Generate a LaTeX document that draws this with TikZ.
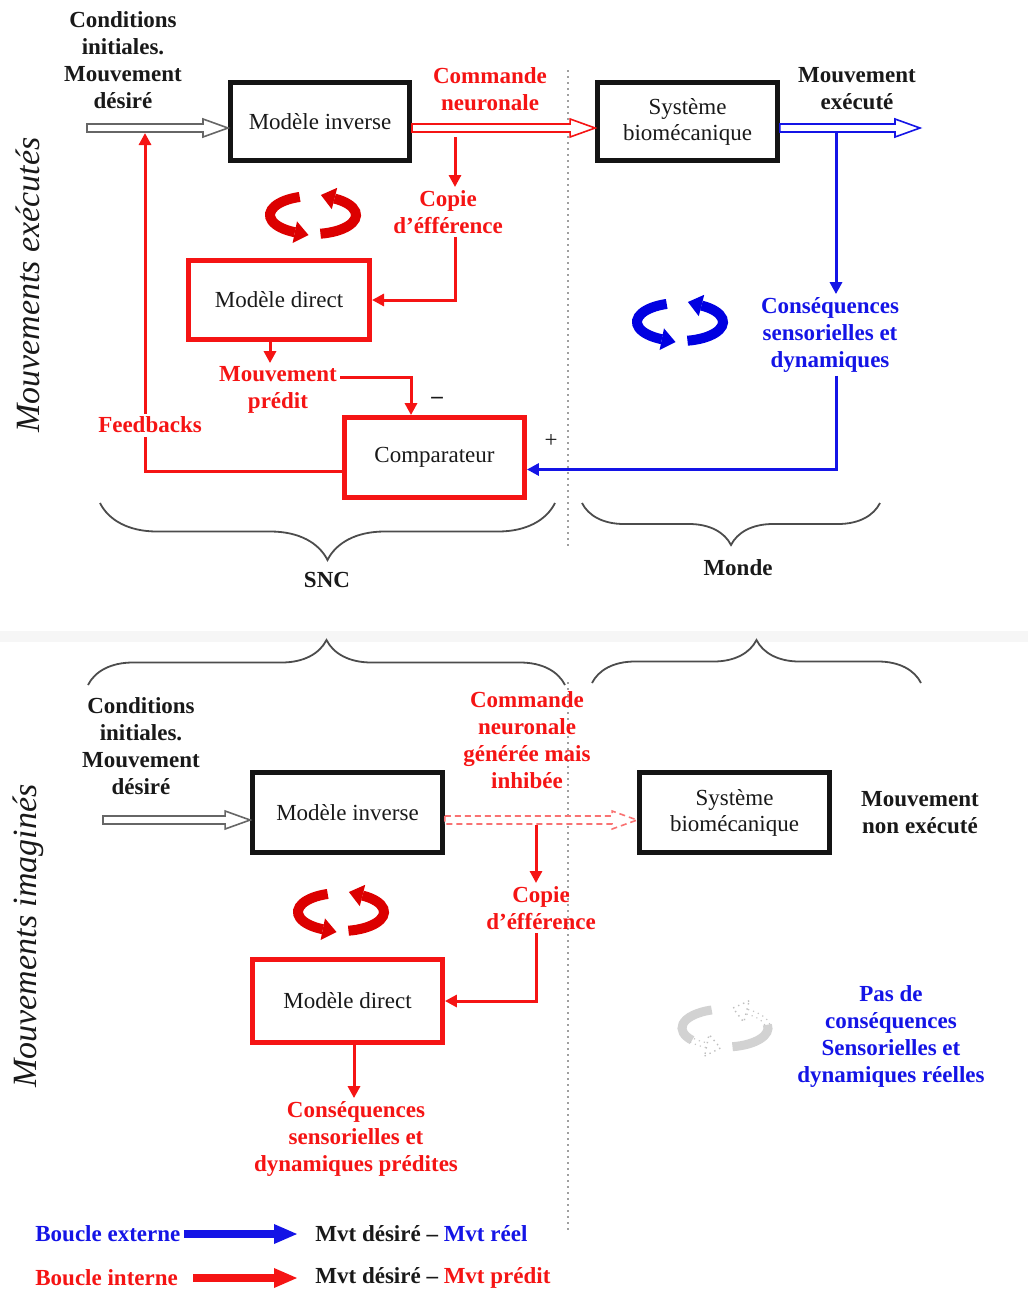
\documentclass[tikz,border=0pt]{standalone}
\usepackage{fontspec}
\setmainfont{Liberation Serif}
\usetikzlibrary{arrows.meta,calc,decorations.pathreplacing}
\definecolor{myred}{RGB}{245,20,20}
\definecolor{myblue}{RGB}{20,20,230}
\definecolor{iconred}{RGB}{220,0,0}
\definecolor{iconblue}{RGB}{0,0,225}
\definecolor{txt}{RGB}{25,25,25}
\newcommand\hollowarrow[3]{%
  \draw[#3] let \p1=(#1), \p2=(#2) in
   (\x1,\y1+2pt) -- (\x2-12.5pt,\y1+2pt) -- (\x2-12.5pt,\y1+4.5pt) -- (\x2,\y1)
   -- (\x2-12.5pt,\y1-4.5pt) -- (\x2-12.5pt,\y1-2pt) -- (\x1,\y1-2pt) -- cycle;}
\tikzset{
  pics/cyc/.style={code={
    \draw[line width=5pt,#1] (252:43 and 19) arc[start angle=252,end angle=115,x radius=43,y radius=19];
    \fill[#1] (-20.4,28.0) -- (-4.5,20.0) -- (-16.0,6.4) -- cycle;
    \draw[line width=5pt,#1] (80:43 and 19) arc[start angle=80,end angle=-60,x radius=43,y radius=19];
    \fill[#1] (24.2,-27.2) -- (7.9,-20.0) -- (18.8,-5.8) -- cycle;
  }},
  pics/ghostcyc/.style={code={
    \draw[line width=4.5pt,gray!35] (252:43 and 19) arc[start angle=252,end angle=140,x radius=43,y radius=19];
    \draw[gray!45,dotted,line width=0.6pt] (140:45.5 and 21.5) arc[start angle=140,end angle=115,x radius=45.5,y radius=21.5];
    \draw[gray!45,dotted,line width=0.6pt] (140:40.5 and 16.5) arc[start angle=140,end angle=115,x radius=40.5,y radius=16.5];
    \draw[gray!50,dotted,line width=0.7pt,fill=white] (-20.4,28.0) -- (-4.5,20.0) -- (-16.0,6.4) -- cycle;
    \draw[line width=4.5pt,gray!35] (80:43 and 19) arc[start angle=80,end angle=-10,x radius=43,y radius=19];
    \draw[gray!45,dotted,line width=0.6pt] (-10:45.5 and 21.5) arc[start angle=-10,end angle=-60,x radius=45.5,y radius=21.5];
    \draw[gray!45,dotted,line width=0.6pt] (-10:40.5 and 16.5) arc[start angle=-10,end angle=-60,x radius=40.5,y radius=16.5];
    \draw[gray!50,dotted,line width=0.7pt,fill=white] (24.2,-27.2) -- (7.9,-20.0) -- (18.8,-5.8) -- cycle;
  }},
  every node/.style={font=\fontsize{11.5pt}{13pt}\selectfont, text=txt},
  box/.style={line width=2.4pt, inner sep=0pt, align=center},
  blkbox/.style={box, draw=black!92},
  redbox/.style={box, draw=myred},
  lbl/.style={font=\bfseries\fontsize{11.5pt}{13.5pt}\selectfont, align=center, inner sep=1.5pt},
  rlbl/.style={lbl, text=myred},
  blbl/.style={lbl, text=myblue},
  rline/.style={draw=myred, line width=1.5pt},
  bline/.style={draw=myblue, line width=1.5pt},
  arr/.style={-{Triangle[length=6pt,width=6pt]}},
  hol/.style={draw=black!60, fill=white, line width=0.8pt},
  holred/.style={draw=myred, fill=white, line width=0.8pt},
  holblue/.style={draw=myblue, fill=white, line width=0.8pt},
  holdash/.style={draw=myred!60, fill=white, line width=0.8pt, dash pattern=on 3pt off 2pt},
  sepline/.style={draw=gray!75, dotted, line width=1pt},
  brc/.style={decorate, draw=black!70, line width=0.9pt},
  biglbl/.style={rotate=90, font=\itshape\fontsize{17pt}{20pt}\selectfont}
}
\begin{document}
\begin{tikzpicture}[x=0.5pt,y=-0.5pt]
\useasboundingbox (0,0) rectangle (1028,1292);
\fill[gray!7] (0,631) rectangle (1028,642);

% vertical separators
\coordinate (d1a) at (568,70); \coordinate (d1b) at (568,547);
\draw[sepline] (d1a) -- (d1b);
\coordinate (d2a) at (568,682); \coordinate (d2b) at (568,1232);
\draw[sepline] (d2a) -- (d2b);

% side titles
\node[biglbl] (t1) at (28,285) {Mouvements exécutés};
\node[biglbl] (t2) at (28,936) {Mouvements imaginés};

% ---------- top part ----------
\node[blkbox, minimum width=89.6pt, minimum height=39pt] (inv1) at (320,121.5) {Modèle inverse};
\node[blkbox, minimum width=90pt, minimum height=39pt] (sys1) at (687.5,121.5) {Système\\biomécanique};
\node[redbox, minimum width=90.6pt, minimum height=39.6pt] (dir1) at (279,300) {Modèle direct};
\node[redbox, minimum width=90pt, minimum height=40pt] (comp) at (434.5,457.5) {Comparateur};

\node[lbl] (cond1) at (123,60) {Conditions\\initiales.\\Mouvement\\désiré};
\node[rlbl] (cmd1) at (490,89) {Commande\\neuronale};
\node[lbl] (mvex) at (857,89) {Mouvement\\exécuté};
\node[rlbl] (cop1) at (448,212) {Copie\\d’éfférence};
\node[blbl] (cons1) at (830,335) {Conséquences\\sensorielles et\\dynamiques};
\node[rlbl] (mvp) at (278,390) {Mouvement\\prédit};
\node[rlbl] (fb) at (150,425) {Feedbacks};
\node[lbl] (minus) at (437,400) {–};
\node (plus) at (551,441) {+};
\node[lbl] (snc1) at (327,580) {SNC};
\node[lbl] (monde1) at (738,568) {Monde};

\pic at (313,215) {cyc=iconred};
\pic at (680,322) {cyc=iconblue};

\coordinate (s1) at (87,128);
\hollowarrow{s1}{[yshift=-3.25pt]inv1.west}{hol}
\hollowarrow{[yshift=-3.25pt]inv1.east}{[yshift=-3.25pt]sys1.west}{holred}
\coordinate (e1) at (920,128);
\hollowarrow{[yshift=-3.25pt]sys1.east}{e1}{holblue}

\coordinate (bd) at (836,133);
\draw[bline,arr] (bd) -- (bd |- cons1.north);
\draw[bline,arr] (bd |- cons1.south) |- ([yshift=-6pt]comp.east);

\coordinate (rd) at (455,137);
\draw[rline,arr] (rd) -- (rd |- cop1.north);
\draw[rline,arr] (rd |- cop1.south) |- (dir1.east);
\draw[rline,arr] ([xshift=-4.5pt]dir1.south) -- ([xshift=-4.5pt]dir1.south |- mvp.north);
\draw[rline,arr] ([yshift=6.5pt]mvp.east) -| ([xshift=-11.75pt]comp.north);

\coordinate (fbt) at (145,133);
\draw[rline] ([yshift=-6.75pt]comp.west) -| (fbt |- fb.south);
\draw[rline,arr] (fbt |- fb.north) -- (fbt);

\draw[brc, decoration={brace, mirror, amplitude=28.5pt}] (100,503) -- (555,503);
\draw[brc, decoration={brace, mirror, amplitude=21pt}] (582,503) -- (880,503);

% ---------- bottom part ----------
\draw[brc, decoration={brace, amplitude=22.5pt}] (88,685) -- (565,685);
\draw[brc, decoration={brace, amplitude=21.5pt}] (592,683) -- (921,683);

\node[blkbox, minimum width=95pt, minimum height=40pt] (inv2) at (347.5,812.5) {Modèle inverse};
\node[blkbox, minimum width=95pt, minimum height=40pt] (sys2) at (734.5,812.5) {Système\\biomécanique};
\node[redbox, minimum width=95pt, minimum height=41.5pt] (dir2) at (347.5,1001) {Modèle direct};

\node[lbl] (cond2) at (141,746) {Conditions\\initiales.\\Mouvement\\désiré};
\node[rlbl] (cmd2) at (527,740) {Commande\\neuronale\\générée mais\\inhibée};
\node[lbl] (mvnon) at (920,813) {Mouvement\\non exécuté};
\node[rlbl] (cop2) at (541,908) {Copie\\d’éfférence};
\node[rlbl] (cons2) at (356,1139) {Conséquences\\sensorielles et\\dynamiques prédites};
\node[blbl] (pas) at (891,1036) {Pas de\\conséquences\\Sensorielles et\\dynamiques réelles};

\pic at (341,912) {cyc=iconred};
\pic at (725,1028) {ghostcyc};

\coordinate (s2) at (103,820);
\hollowarrow{s2}{[yshift=-3.75pt]inv2.west}{hol}
\hollowarrow{[yshift=-3.75pt]inv2.east}{[yshift=-3.75pt]sys2.west}{holdash}

\coordinate (rd2) at (536,825);
\draw[rline,arr] (rd2) -- (rd2 |- cop2.north);
\draw[rline,arr] (rd2 |- cop2.south) |- (dir2.east);
\draw[rline,arr] ([xshift=3.25pt]dir2.south) -- ([xshift=3.25pt]dir2.south |- cons2.north);

% ---------- legend ----------
\node[blbl, anchor=west] (bext) at (32,1234) {Boucle externe};
\node[lbl, anchor=west] (lg1) at (312,1234) {Mvt désiré – \textcolor{myblue}{Mvt réel}};
\draw[myblue, line width=4pt, -{Triangle[length=12pt,width=9pt]}] (bext.east) -- ([xshift=-7pt]lg1.west);
\node[rlbl, anchor=west] (bint) at (32,1278) {Boucle interne};
\node[lbl, anchor=west] (lg2) at (312,1278) {Mvt désiré – \textcolor{myred}{Mvt prédit}};
\draw[myred, line width=4pt, -{Triangle[length=12pt,width=9pt]}] ([xshift=6pt]bint.east) -- ([xshift=-7pt]lg2.west);
\end{tikzpicture}
\end{document}
